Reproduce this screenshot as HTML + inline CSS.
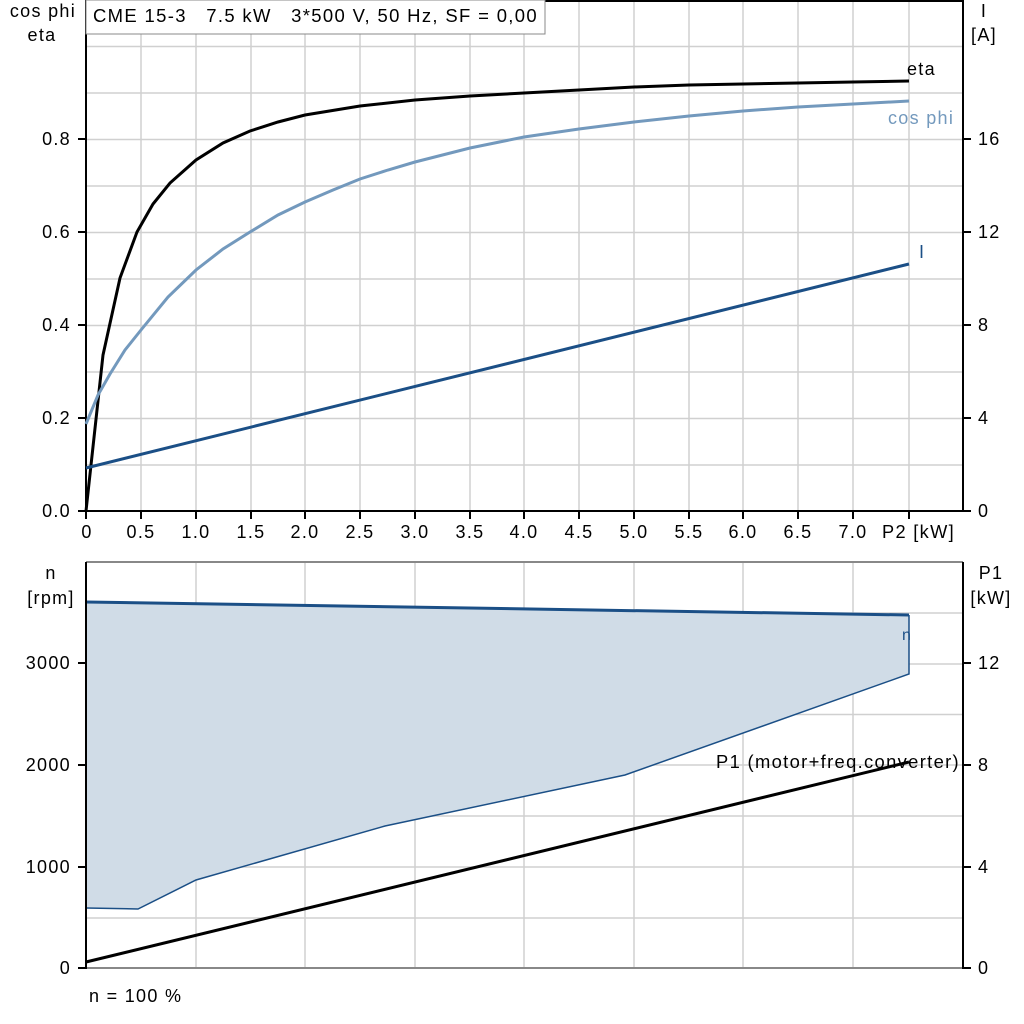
<!DOCTYPE html>
<html><head><meta charset="utf-8"><style>
html,body{margin:0;padding:0;background:#fff}
svg{display:block}
text{font-family:"Liberation Sans",Arial,sans-serif;font-size:18px;fill:#000;letter-spacing:1.3px;white-space:pre}
</style></head><body>
<svg width="1024" height="1024" viewBox="0 0 1024 1024" xmlns="http://www.w3.org/2000/svg" xml:space="preserve">
<g stroke="#d0d0d0" stroke-width="1.5">
<line x1="141" y1="1" x2="141" y2="511"/><line x1="196" y1="1" x2="196" y2="511"/><line x1="251" y1="1" x2="251" y2="511"/><line x1="305" y1="1" x2="305" y2="511"/><line x1="360" y1="1" x2="360" y2="511"/><line x1="415" y1="1" x2="415" y2="511"/><line x1="470" y1="1" x2="470" y2="511"/><line x1="524" y1="1" x2="524" y2="511"/><line x1="579" y1="1" x2="579" y2="511"/><line x1="634" y1="1" x2="634" y2="511"/><line x1="689" y1="1" x2="689" y2="511"/><line x1="743" y1="1" x2="743" y2="511"/><line x1="798" y1="1" x2="798" y2="511"/><line x1="853" y1="1" x2="853" y2="511"/><line x1="909" y1="1" x2="909" y2="511"/>
<line x1="86" y1="46.5" x2="963" y2="46.5"/><line x1="86" y1="93" x2="963" y2="93"/><line x1="86" y1="139.5" x2="963" y2="139.5"/><line x1="86" y1="186" x2="963" y2="186"/><line x1="86" y1="232.5" x2="963" y2="232.5"/><line x1="86" y1="279" x2="963" y2="279"/><line x1="86" y1="325.5" x2="963" y2="325.5"/><line x1="86" y1="372" x2="963" y2="372"/><line x1="86" y1="418.5" x2="963" y2="418.5"/><line x1="86" y1="465" x2="963" y2="465"/>
<line x1="196" y1="562" x2="196" y2="968"/><line x1="305" y1="562" x2="305" y2="968"/><line x1="415" y1="562" x2="415" y2="968"/><line x1="524" y1="562" x2="524" y2="968"/><line x1="634" y1="562" x2="634" y2="968"/><line x1="743" y1="562" x2="743" y2="968"/><line x1="853" y1="562" x2="853" y2="968"/>
<line x1="86" y1="613" x2="963" y2="613"/><line x1="86" y1="664" x2="963" y2="664"/><line x1="86" y1="714.5" x2="963" y2="714.5"/><line x1="86" y1="765" x2="963" y2="765"/><line x1="86" y1="816" x2="963" y2="816"/><line x1="86" y1="867" x2="963" y2="867"/><line x1="86" y1="918" x2="963" y2="918"/>
</g>
<line x1="86" y1="1" x2="963" y2="1" stroke="#000" stroke-width="2"/>
<line x1="86" y1="0" x2="86" y2="512" stroke="#000" stroke-width="2"/>
<line x1="86" y1="511" x2="963" y2="511" stroke="#000" stroke-width="2"/>
<line x1="963" y1="0" x2="963" y2="512" stroke="#000" stroke-width="2"/>
<rect x="86" y="0" width="459" height="34" fill="#fff" stroke="#888" stroke-width="1"/>
<text x="93" y="22" textLength="445" lengthAdjust="spacingAndGlyphs">CME 15-3   7.5 kW   3*500 V, 50 Hz, SF = 0,00</text>
<polyline fill="none" stroke="#000" stroke-width="3" points="86,511 103,355 120,278 137,232 153,204 170,183 196,160 223,143 250,131 278,122 305,115 360,106 415,100 470,96 524,93 579,90 634,87 689,85 743,84 798,83 853,82 909,81"/>
<polyline fill="none" stroke="#7399bd" stroke-width="3" points="86,424 98,395 110,374 125,350 141,330 168,297 196,270 223,249 250,232 278,215 305,202 333,190 360,179 388,170 415,162 470,148 524,137 579,129 634,122 689,116 743,111 798,107 853,104 909,101"/>
<line x1="86" y1="468" x2="909" y2="264" stroke="#1b4f86" stroke-width="3"/>
<text x="907" y="75">eta</text>
<text x="888" y="124" style="fill:#7399bd">cos phi</text>
<text x="919" y="258" style="fill:#1b4f86">I</text>
<g text-anchor="end">
<text x="76" y="17">cos phi</text>
<text x="71" y="517">0.0</text><text x="71" y="424">0.2</text><text x="71" y="331">0.4</text><text x="71" y="238">0.6</text><text x="71" y="145">0.8</text>
</g>
<text x="42" y="41" text-anchor="middle">eta</text>
<g stroke="#000" stroke-width="2"><line x1="78" y1="511" x2="86" y2="511"/><line x1="78" y1="418" x2="86" y2="418"/><line x1="78" y1="325" x2="86" y2="325"/><line x1="78" y1="232" x2="86" y2="232"/><line x1="78" y1="139" x2="86" y2="139"/>
<line x1="963" y1="511" x2="971" y2="511"/><line x1="963" y1="418" x2="971" y2="418"/><line x1="963" y1="325" x2="971" y2="325"/><line x1="963" y1="232" x2="971" y2="232"/><line x1="963" y1="139" x2="971" y2="139"/></g>
<text x="984" y="17" text-anchor="middle">I</text>
<text x="984" y="41" text-anchor="middle">[A]</text>
<text x="978" y="517">0</text><text x="978" y="424">4</text><text x="978" y="331">8</text><text x="978" y="238">12</text><text x="978" y="145">16</text>
<g stroke="#000" stroke-width="2">
<line x1="86" y1="511" x2="86" y2="519"/><line x1="141" y1="511" x2="141" y2="519"/><line x1="196" y1="511" x2="196" y2="519"/><line x1="251" y1="511" x2="251" y2="519"/><line x1="305" y1="511" x2="305" y2="519"/><line x1="360" y1="511" x2="360" y2="519"/><line x1="415" y1="511" x2="415" y2="519"/><line x1="470" y1="511" x2="470" y2="519"/><line x1="524" y1="511" x2="524" y2="519"/><line x1="579" y1="511" x2="579" y2="519"/><line x1="634" y1="511" x2="634" y2="519"/><line x1="689" y1="511" x2="689" y2="519"/><line x1="743" y1="511" x2="743" y2="519"/><line x1="798" y1="511" x2="798" y2="519"/><line x1="853" y1="511" x2="853" y2="519"/><line x1="909" y1="511" x2="909" y2="519"/></g>
<g text-anchor="middle">
<text x="87" y="538">0</text><text x="141" y="538">0.5</text><text x="196" y="538">1.0</text><text x="251" y="538">1.5</text><text x="305" y="538">2.0</text><text x="360" y="538">2.5</text><text x="415" y="538">3.0</text><text x="470" y="538">3.5</text><text x="524" y="538">4.0</text><text x="579" y="538">4.5</text><text x="634" y="538">5.0</text><text x="689" y="538">5.5</text><text x="743" y="538">6.0</text><text x="798" y="538">6.5</text><text x="853" y="538">7.0</text>
</g>
<text x="882" y="538" textLength="73" lengthAdjust="spacingAndGlyphs">P2 [kW]</text>
<polygon fill="#d0dce7" points="86,602 909,615 909,674 625,775 385,826 196,880 138,909 86,908"/>
<polyline fill="none" stroke="#1b4f86" stroke-width="1.5" points="909,615 909,674 625,775 385,826 196,880 138,909 86,908"/>
<line x1="86" y1="602" x2="909" y2="615" stroke="#1b4f86" stroke-width="3"/>
<line x1="86" y1="962" x2="909" y2="762" stroke="#000" stroke-width="3"/>
<text x="902" y="640" style="fill:#1b4f86;font-size:16px">n</text>
<text x="716" y="768" textLength="244" lengthAdjust="spacingAndGlyphs">P1 (motor+freq.converter)</text>
<line x1="86" y1="562" x2="963" y2="562" stroke="#888" stroke-width="2"/>
<line x1="86" y1="968" x2="963" y2="968" stroke="#888" stroke-width="2"/>
<line x1="86" y1="562" x2="86" y2="969" stroke="#000" stroke-width="2"/>
<line x1="963" y1="562" x2="963" y2="969" stroke="#000" stroke-width="2"/>
<g stroke="#000" stroke-width="2"><line x1="78" y1="968" x2="86" y2="968"/><line x1="78" y1="867" x2="86" y2="867"/><line x1="78" y1="765" x2="86" y2="765"/><line x1="78" y1="663" x2="86" y2="663"/>
<line x1="963" y1="968" x2="971" y2="968"/><line x1="963" y1="867" x2="971" y2="867"/><line x1="963" y1="765" x2="971" y2="765"/><line x1="963" y1="663" x2="971" y2="663"/></g>
<text x="51" y="579" text-anchor="middle">n</text>
<text x="51" y="604" text-anchor="middle">[rpm]</text>
<g text-anchor="end"><text x="71" y="974">0</text><text x="71" y="873">1000</text><text x="71" y="771">2000</text><text x="71" y="669">3000</text></g>
<text x="991" y="579" text-anchor="middle">P1</text>
<text x="991" y="604" text-anchor="middle">[kW]</text>
<text x="978" y="974">0</text><text x="978" y="873">4</text><text x="978" y="771">8</text><text x="978" y="669">12</text>
<text x="89" y="1002">n = 100 %</text>
</svg>
</body></html>
